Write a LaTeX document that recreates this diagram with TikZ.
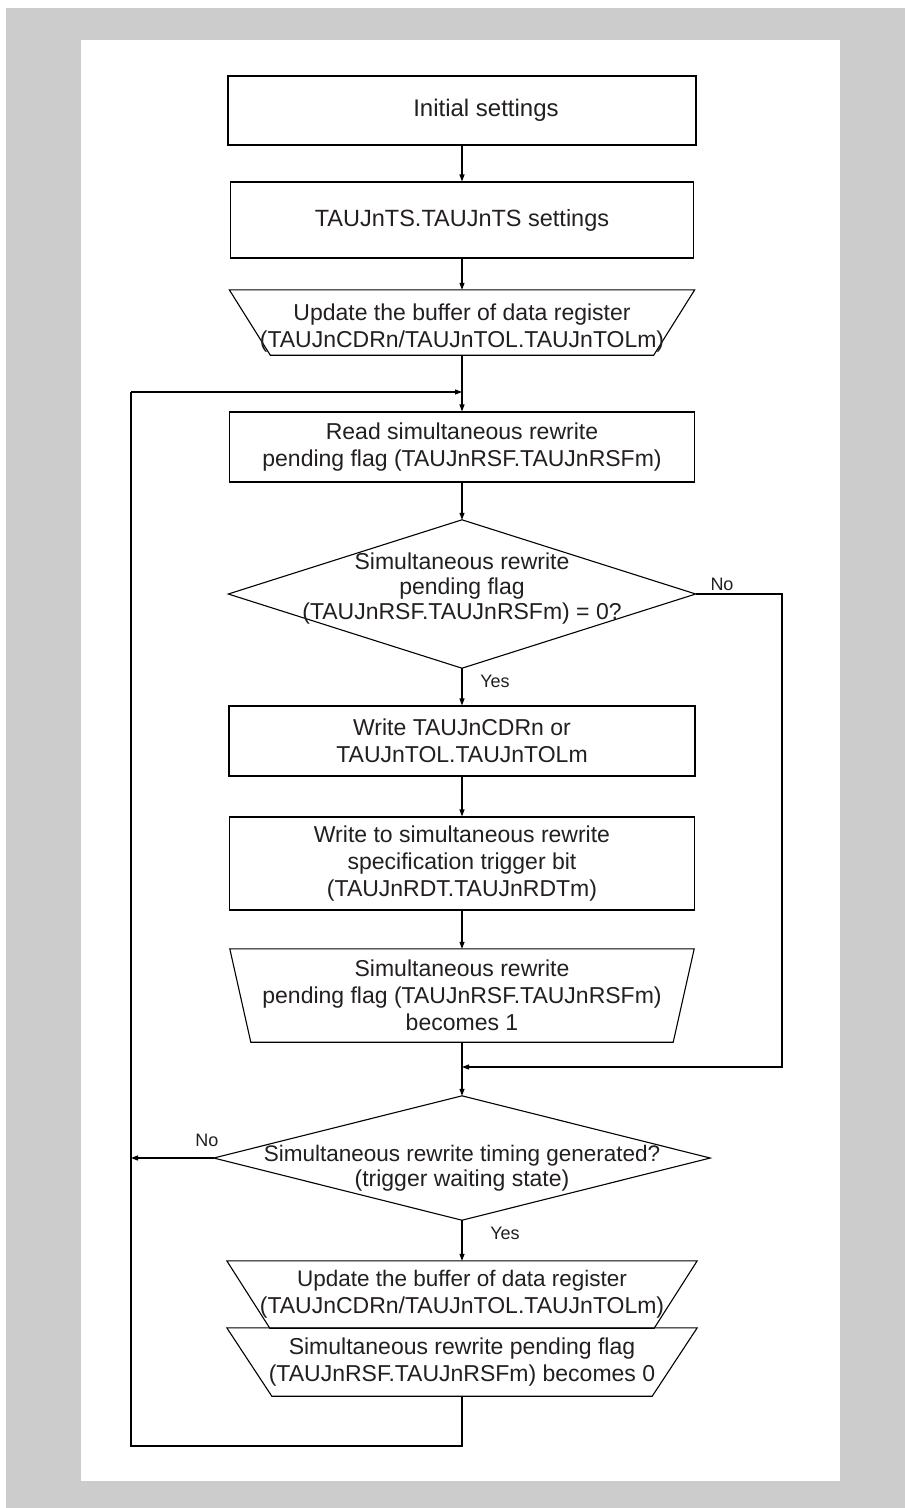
\documentclass[tikz,border=0pt]{standalone}
\usepackage{fontspec}
\setmainfont{Liberation Sans}
\usetikzlibrary{arrows.meta}
\definecolor{bggray}{HTML}{CCCCCC}
\definecolor{txt}{HTML}{231F20}
\begin{document}
\begin{tikzpicture}[x=1pt,y=-1pt,
  ln/.style={line width=1.1pt,draw=black},
  arr/.style={ln,-{Triangle[length=7pt,width=5pt]}},
  box/.style={ln,align=center,inner sep=0pt,text=txt,font=\fontsize{23}{27}\selectfont},
  shp/.style={align=center,inner sep=0pt,text=txt,font=\fontsize{23}{27}\selectfont},
  dtxt/.style={align=center,inner sep=0pt,text=txt,font=\fontsize{23}{25}\selectfont},
  lbl/.style={inner sep=0pt,text=txt,font=\fontsize{18}{20}\selectfont}]
\useasboundingbox (0,0) rectangle (905,1508);
\fill[white] (0,0) rectangle (905,1508);
\fill[bggray] (6,8) rectangle (905,1508);
\fill[white] (81,40) rectangle (840,1481);

% nodes
\node[box,minimum width=468pt,minimum height=69pt] (b1) at (462,110.5) {\hspace*{48pt}\fontsize{24}{27}\selectfont Initial settings};
\node[box,minimum width=463pt,minimum height=76pt] (b2) at (462,220) {\fontsize{23.5}{27}\selectfont TAUJnTS.TAUJnTS settings};
\node[shp,minimum width=465pt,minimum height=65pt] (t1) at (462,322.5) {};
\draw[ln] (t1.north west) -- (t1.north east) -- ([xshift=-41pt]t1.south east) -- ([xshift=41pt]t1.south west) -- cycle;
\node[shp] (t1t) at (462,328) {Update the buffer of data register\\(TAUJnCDRn/TAUJnTOL.TAUJnTOLm)};
\node[box,minimum width=465pt,minimum height=70pt] (r) at (462,447) {Read simultaneous rewrite\\pending flag (TAUJnRSF.TAUJnRSFm)};
\node[shp,minimum width=467pt,minimum height=148pt] (d1) at (462,594) {};
\draw[ln] (d1.north) -- (d1.east) -- (d1.south) -- (d1.west) -- cycle;
\node[dtxt] (d1t) at (462,589) {Simultaneous rewrite\\pending flag\\(TAUJnRSF.TAUJnRSFm) = 0?};
\node[box,minimum width=466pt,minimum height=70pt] (w1) at (462,741) {Write TAUJnCDRn or\\TAUJnTOL.TAUJnTOLm};
\node[box,minimum width=465pt,minimum height=93pt] (w2) at (462,863.5) {Write to simultaneous rewrite\\specification trigger bit\\(TAUJnRDT.TAUJnRDTm)};
\node[shp,minimum width=464pt,minimum height=93pt] (t2) at (462,995.5) {Simultaneous rewrite\\pending flag (TAUJnRSF.TAUJnRSFm)\\becomes 1};
\draw[ln] (t2.north west) -- (t2.north east) -- ([xshift=-21pt]t2.south east) -- ([xshift=21pt]t2.south west) -- cycle;
\node[shp,minimum width=496pt,minimum height=124pt] (d2) at (462,1158) {};
\draw[ln] (d2.north) -- (d2.east) -- (d2.south) -- (d2.west) -- cycle;
\node[dtxt] (d2t) at (462,1168) {\fontsize{22.5}{25}\selectfont Simultaneous rewrite timing generated?\\(trigger waiting state)};
\node[shp,minimum width=470pt,minimum height=67pt] (t3) at (462,1294.5) {\fontsize{22.5}{27}\selectfont Update the buffer of data register\\(TAUJnCDRn/TAUJnTOL.TAUJnTOLm)};
\draw[ln] (t3.north west) -- (t3.north east) -- ([xshift=-43pt]t3.south east) -- ([xshift=43pt]t3.south west) -- cycle;
\node[shp,minimum width=470pt,minimum height=68pt] (t4) at (462,1362) {Simultaneous rewrite pending flag\\(TAUJnRSF.TAUJnRSFm) becomes 0};
\draw[ln] (t4.north west) -- (t4.north east) -- ([xshift=-45pt]t4.south east) -- ([xshift=45pt]t4.south west) -- cycle;

% labels
\node[lbl] (no1) at (722,584) {No};
\node[lbl] (yes1) at (495,681) {Yes};
\node[lbl] (no2) at (207,1140) {No};
\node[lbl] (yes2) at (505,1233) {Yes};

% coordinates
\coordinate (j1) at (462,392);
\coordinate (c1) at (462,1446);
\coordinate (c2) at (131,1446);
\coordinate (c3) at (131,392);
\coordinate (n2) at (782,1067);
\coordinate (j2) at (462,1067);
\coordinate (l2) at (131,1158);

% connectors
\draw[arr] (b1.south) -- (b2.north);
\draw[arr] (b2.south) -- (t1.north);
\draw[arr] (t1.south) -- (r.north);
\draw[arr] (r.south) -- (d1.north);
\draw[arr] (d1.south) -- (w1.north);
\draw[arr] (w1.south) -- (w2.north);
\draw[arr] (w2.south) -- (t2.north);
\draw[arr] (t2.south) -- (d2.north);
\draw[arr] (d2.south) -- (t3.north);
\draw[arr] (d1.east) -| (n2) -- (j2);
\draw[arr] (d2.west) -- (l2);
\draw[ln] (t4.south) -- (c1) -- (c2) -- (c3);
\draw[arr] (c3) -- (j1);
\end{tikzpicture}
\end{document}
